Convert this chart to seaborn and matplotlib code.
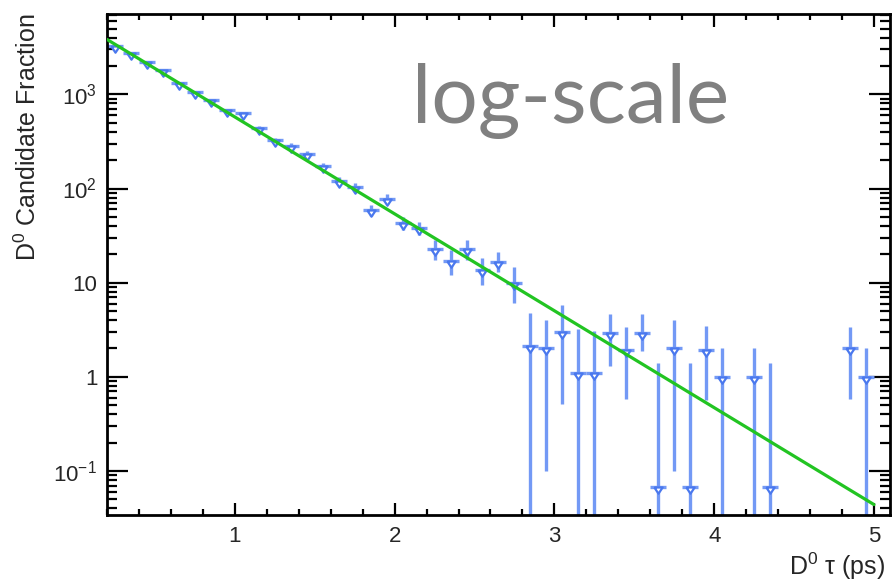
import numpy as np
import pandas as pd
import matplotlib
matplotlib.use("Agg")
import matplotlib.pyplot as plt
import seaborn as sns
from matplotlib.ticker import (FixedLocator, FixedFormatter, LogLocator,
                               MultipleLocator, NullFormatter)

# ---------------- data ----------------
tau_bins = [0.25, 0.35, 0.45, 0.55, 0.65, 0.75, 0.85, 0.95, 1.05, 1.15,
            1.25, 1.35, 1.45, 1.55, 1.65, 1.75, 1.85, 1.95, 2.05, 2.15,
            2.25, 2.35, 2.45, 2.55, 2.65, 2.75, 2.85, 2.95, 3.05, 3.15,
            3.25, 3.35, 3.45, 3.55, 3.65, 3.75, 3.85, 3.95, 4.05, 4.25,
            4.35, 4.85, 4.95]
counts = [3300, 2750, 2180, 1800, 1320, 1060, 870, 680, 630, 440,
          330, 285, 235, 172, 120, 105, 59, 78, 43, 38,
          23, 17, 23, 13.5, 16.5, 10, 2.1, 2.0, 3.0, 1.1,
          1.1, 2.9, 1.95, 2.9, 0.068, 2.0, 0.068, 1.95, 1.0, 1.0,
          0.068, 2.0, 1.0]
count_low = [3240, 2695, 2130, 1755, 1283, 1027, 840, 654, 605, 419,
             312, 268, 220, 159, 109, 95, 51, 69, 36.5, 32,
             17.5, 12.2, 17.5, 9.5, 13, 6.1, 0.001, 0.1, 0.52, 0.001,
             0.001, 1.3, 0.58, 1.9, 0.001, 0.1, 0.001, 0.57, 0.001, 0.001,
             0.001, 0.58, 0.001]
count_high = [3360, 2805, 2230, 1845, 1357, 1093, 900, 706, 655, 461,
              348, 302, 250, 185, 131, 115, 67, 87, 49.5, 44,
              28.5, 22.3, 28.5, 18.3, 21, 14.7, 4.8, 4.0, 5.8, 3.2,
              3.1, 4.7, 3.4, 4.7, 1.4, 4.0, 1.4, 3.5, 2.0, 2.0,
              1.4, 3.4, 2.0]
bin_half_width = 0.05

fit_tau = [0.2, 5.0]
fit_counts = [3830, 0.044]

x_ticks = [1, 2, 3, 4, 5]
x_tick_labels = ["1", "2", "3", "4", "5"]
y_ticks = [0.1, 1, 10, 100, 1000]
y_tick_labels = ["$10^{-1}$", "1", "10", "$10^{2}$", "$10^{3}$"]

x_label = "D$^{0}$ τ (ps)"
y_label = "D$^{0}$ Candidate Fraction"
overlay_text = "log-scale"

# ---------------- style ----------------
sns.set_theme(style="ticks")
plt.rcParams["font.family"] = ["Liberation Sans", "DejaVu Sans"]
plt.rcParams["mathtext.fontset"] = "custom"
plt.rcParams["mathtext.rm"] = "Liberation Sans"
plt.rcParams["mathtext.it"] = "Liberation Sans:italic"
plt.rcParams["mathtext.bf"] = "Liberation Sans:bold"

df = pd.DataFrame({"tau": tau_bins, "count": counts,
                   "low": count_low, "high": count_high})
df["err_lo"] = df["count"] - df["low"]
df["err_hi"] = df["high"] - df["count"]
fit_df = pd.DataFrame({"tau": fit_tau, "count": fit_counts})

fig = plt.figure(figsize=(8.93, 5.81), dpi=100)
ax = fig.add_axes([0.1198, 0.1136, 0.9966 - 0.1198, 0.976 - 0.1136])

ax.set_yscale("log")
ax.set_xlim(0.2, 5.1)
ax.set_ylim(0.0341, 7140)

bar_color = "#7399f5"
marker_color = "#4a78ee"
green = "#22c422"

# error bars
ax.errorbar(df["tau"], df["count"],
            yerr=[df["err_lo"], df["err_hi"]],
            xerr=bin_half_width, fmt="none", ecolor=bar_color,
            elinewidth=2.4, capsize=0, zorder=2)

# markers (open downward triangle, top edge at value)
tri = [(-1.0, 0.0), (1.0, 0.0), (0.0, -1.5), (-1.0, 0.0)]
sns.scatterplot(data=df, x="tau", y="count", ax=ax, marker=tri, s=80,
                facecolor="white", edgecolor=marker_color, linewidth=1.6,
                zorder=3, legend=False)

# fit line
sns.lineplot(data=fit_df, x="tau", y="count", ax=ax, color=green,
             linewidth=2.3, zorder=4)

# ticks
ax.xaxis.set_major_locator(FixedLocator(x_ticks))
ax.xaxis.set_major_formatter(FixedFormatter(x_tick_labels))
ax.xaxis.set_minor_locator(MultipleLocator(0.2))
ax.yaxis.set_major_locator(FixedLocator(y_ticks))
ax.yaxis.set_major_formatter(FixedFormatter(y_tick_labels))
ax.yaxis.set_minor_locator(LogLocator(base=10, subs=np.arange(2, 10) * 1.0,
                                      numticks=30))
ax.yaxis.set_minor_formatter(NullFormatter())

ax.tick_params(which="both", direction="in", top=True, right=True,
               color="black", width=1.6)
ax.tick_params(axis="x", which="major", length=9, pad=8, labelsize=16)
ax.tick_params(axis="x", which="minor", length=4.5)
ax.tick_params(axis="y", which="major", length=15, pad=7, labelsize=16)
ax.tick_params(axis="y", which="minor", length=7)

for sp in ax.spines.values():
    sp.set_linewidth(2.0)
    sp.set_color("black")

ax.set_xlabel(x_label, fontsize=18, ha="right")
ax.xaxis.set_label_coords(0.994, -0.072)
ax.set_ylabel(y_label, loc="top", fontsize=18, labelpad=9)

fig.text(412 / 893, 1 - 123 / 581, overlay_text, family=["Lato", "DejaVu Sans"],
         fontsize=59, color="#808080", ha="left", va="baseline")

fig.savefig("out.png", dpi=100)
